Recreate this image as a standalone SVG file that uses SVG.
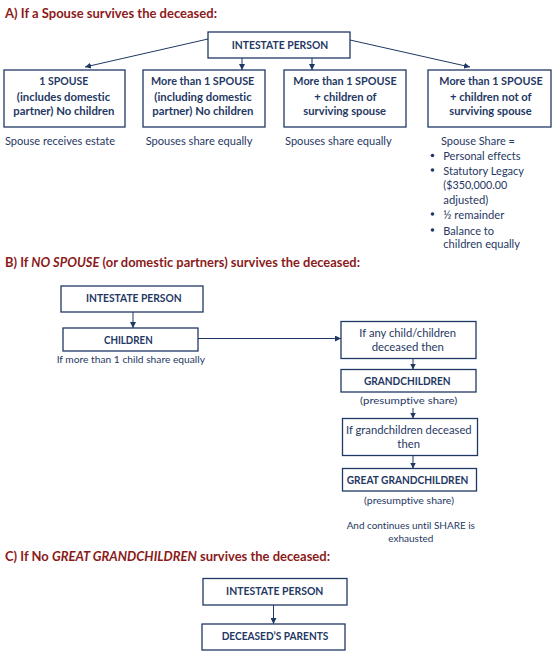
<svg xmlns="http://www.w3.org/2000/svg" width="557" height="662" viewBox="0 0 557 662">
<defs>
<style>
text{font-variant-ligatures:none}
.title{font-family:Lato,"Liberation Sans",sans-serif;font-weight:bold;font-size:13.5px;fill:#8B1A1A}
.box{fill:#fff;stroke:#1F3864;stroke-width:1.3}
.bt{font-family:Lato,"Liberation Sans",sans-serif;font-weight:bold;font-size:11.5px;fill:#1F3864;text-anchor:middle}
.t{font-family:Lato,"Liberation Sans",sans-serif;font-size:11.5px;fill:#1F3864}
.tm{text-anchor:middle}
.tc{font-family:Lato,"Liberation Sans",sans-serif;font-size:10px;fill:#1F3864;text-anchor:middle}
.ln{stroke:#1F3864;stroke-width:1;fill:none;marker-end:url(#ah)}
</style>
<marker id="ah" viewBox="0 0 10 10" refX="10" refY="5" markerWidth="6" markerHeight="6" orient="auto" markerUnits="userSpaceOnUse">
<path d="M0,0 L10,5 L0,10 z" fill="#1F3864"/>
</marker>
</defs>
<rect width="557" height="662" fill="#fff"/>

<text class="title" x="5" y="18" textLength="212" lengthAdjust="spacingAndGlyphs">A) If a Spouse survives the deceased:</text>
<text class="title" x="5" y="267" textLength="355" lengthAdjust="spacingAndGlyphs">B) If <tspan font-style="italic">NO SPOUSE</tspan> (or domestic partners) survives the deceased:</text>
<text class="title" x="5" y="561" textLength="325" lengthAdjust="spacingAndGlyphs">C) If No <tspan font-style="italic">GREAT GRANDCHILDREN</tspan> survives the deceased:</text>

<g id="connectors">
<line class="ln" x1="208" y1="39" x2="85" y2="67"/>
<line class="ln" x1="242" y1="58" x2="242" y2="70"/>
<line class="ln" x1="312" y1="58" x2="312" y2="70"/>
<line class="ln" x1="350" y1="40" x2="470" y2="67"/>
<line class="ln" x1="133" y1="312" x2="133" y2="328"/>
<line class="ln" x1="198" y1="338.5" x2="341" y2="338.5"/>
<line class="ln" x1="413" y1="358" x2="413" y2="369.5"/>
<line class="ln" x1="413" y1="408" x2="413" y2="418.5"/>
<line class="ln" x1="413" y1="455.5" x2="413" y2="468.5"/>
<line class="ln" x1="273.5" y1="605" x2="273.5" y2="624"/>
</g>

<g id="a-intestate">
<rect class="box" x="208" y="32" width="142" height="26"/>
<text class="bt" x="280" y="49" textLength="96.5" lengthAdjust="spacingAndGlyphs">INTESTATE PERSON</text>
</g>
<g id="a-one-spouse">
<rect class="box" x="4" y="70" width="121" height="57"/>
<text class="bt" x="63.8" y="85" textLength="49" lengthAdjust="spacingAndGlyphs">1 SPOUSE</text>
<text class="bt" x="63.5" y="100.5" textLength="93.3" lengthAdjust="spacingAndGlyphs">(includes domestic</text>
<text class="bt" x="63.8" y="115" textLength="101" lengthAdjust="spacingAndGlyphs">partner) No children</text>
<text class="t" x="5" y="144.5" textLength="110" lengthAdjust="spacingAndGlyphs">Spouse receives estate</text>
</g>
<g id="a-more-spouse">
<rect class="box" x="143" y="70" width="122" height="57"/>
<text class="bt" x="202.7" y="85" textLength="103.3" lengthAdjust="spacingAndGlyphs">More than 1 SPOUSE</text>
<text class="bt" x="203" y="100.5" textLength="97.3" lengthAdjust="spacingAndGlyphs">(including domestic</text>
<text class="bt" x="202.8" y="115" textLength="101" lengthAdjust="spacingAndGlyphs">partner) No children</text>
<text class="t" x="145.7" y="144.5" textLength="106.7" lengthAdjust="spacingAndGlyphs">Spouses share equally</text>
</g>
<g id="a-children-of">
<rect class="box" x="284" y="70" width="122" height="57"/>
<text class="bt" x="345" y="85" textLength="103.3" lengthAdjust="spacingAndGlyphs">More than 1 SPOUSE</text>
<text class="bt" x="345.5" y="100.5" textLength="62.3" lengthAdjust="spacingAndGlyphs">+ children of</text>
<text class="bt" x="344.7" y="115" textLength="82.7" lengthAdjust="spacingAndGlyphs">surviving spouse</text>
<text class="t" x="285" y="144.5" textLength="106.7" lengthAdjust="spacingAndGlyphs">Spouses share equally</text>
</g>
<g id="a-children-not-of">
<rect class="box" x="428" y="70" width="123" height="57"/>
<text class="bt" x="491" y="85" textLength="103.3" lengthAdjust="spacingAndGlyphs">More than 1 SPOUSE</text>
<text class="bt" x="490.8" y="100.5" textLength="81.7" lengthAdjust="spacingAndGlyphs">+ children not of</text>
<text class="bt" x="490.5" y="115" textLength="82.3" lengthAdjust="spacingAndGlyphs">surviving spouse</text>
<text class="t" x="441" y="144.5" textLength="74" lengthAdjust="spacingAndGlyphs">Spouse Share =</text>
<g fill="#1F3864">
<circle cx="432.5" cy="155.5" r="1.8"/>
<circle cx="432.5" cy="170" r="1.8"/>
<circle cx="432.5" cy="214" r="1.8"/>
<circle cx="432.5" cy="230" r="1.8"/>
</g>
<text class="t" x="443.3" y="160" textLength="77.3" lengthAdjust="spacingAndGlyphs">Personal effects</text>
<text class="t" x="443.3" y="174.5" textLength="80.7" lengthAdjust="spacingAndGlyphs">Statutory Legacy</text>
<text class="t" x="443.3" y="189" textLength="64" lengthAdjust="spacingAndGlyphs">($350,000.00</text>
<text class="t" x="443.3" y="203.5" textLength="45" lengthAdjust="spacingAndGlyphs">adjusted)</text>
<text class="t" x="443.3" y="218.5" textLength="61" lengthAdjust="spacingAndGlyphs">½ remainder</text>
<text class="t" x="443.3" y="234.5" textLength="50.7" lengthAdjust="spacingAndGlyphs">Balance to</text>
<text class="t" x="443.3" y="248" textLength="76.7" lengthAdjust="spacingAndGlyphs">children equally</text>
</g>

<g id="b-intestate">
<rect class="box" x="61" y="286" width="142" height="26"/>
<text class="bt" x="133.8" y="302" textLength="95.7" lengthAdjust="spacingAndGlyphs">INTESTATE PERSON</text>
</g>
<g id="b-children">
<rect class="box" x="63" y="328" width="135" height="23"/>
<text class="bt" x="128.3" y="343.5" textLength="48.7" lengthAdjust="spacingAndGlyphs">CHILDREN</text>
<text class="tc" x="130.8" y="362.5" textLength="148.3" lengthAdjust="spacingAndGlyphs">If more than 1 child share equally</text>
</g>
<g id="b-any-child">
<rect class="box" x="341" y="321.5" width="135" height="37"/>
<text class="t tm" x="407.7" y="337" textLength="96.7" lengthAdjust="spacingAndGlyphs">If any child/children</text>
<text class="t tm" x="407.8" y="351" textLength="72.3" lengthAdjust="spacingAndGlyphs">deceased then</text>
</g>
<g id="b-grandchildren">
<rect class="box" x="341" y="369.5" width="135" height="22.5"/>
<text class="bt" x="407.3" y="385" textLength="86.7" lengthAdjust="spacingAndGlyphs">GRANDCHILDREN</text>
<text class="tc" x="408.7" y="404" textLength="97.3" lengthAdjust="spacingAndGlyphs">(presumptive share)</text>
</g>
<g id="b-grand-deceased">
<rect class="box" x="342.5" y="418.5" width="135" height="37"/>
<text class="t tm" x="408.8" y="433.5" textLength="125.7" lengthAdjust="spacingAndGlyphs">If grandchildren deceased</text>
<text class="t tm" x="408.7" y="448" textLength="22.7" lengthAdjust="spacingAndGlyphs">then</text>
</g>
<g id="b-great-grandchildren">
<rect class="box" x="342.5" y="468.5" width="134" height="22.5"/>
<text class="bt" x="407.5" y="484" textLength="121.7" lengthAdjust="spacingAndGlyphs">GREAT GRANDCHILDREN</text>
<text class="tc" x="409" y="503.5" textLength="90" lengthAdjust="spacingAndGlyphs">(presumptive share)</text>
<text class="tc" x="410.8" y="528.5" textLength="128.3" lengthAdjust="spacingAndGlyphs">And continues until SHARE is</text>
<text class="tc" x="410.8" y="542" textLength="45" lengthAdjust="spacingAndGlyphs">exhausted</text>
</g>

<g id="c-intestate">
<rect class="box" x="203" y="578.5" width="144" height="26.5"/>
<text class="bt" x="274.7" y="595" textLength="97.3" lengthAdjust="spacingAndGlyphs">INTESTATE PERSON</text>
</g>
<g id="c-parents">
<rect class="box" x="202" y="624" width="143" height="26"/>
<text class="bt" x="275" y="639.5" textLength="106.7" lengthAdjust="spacingAndGlyphs">DECEASED’S PARENTS</text>
</g>
</svg>
